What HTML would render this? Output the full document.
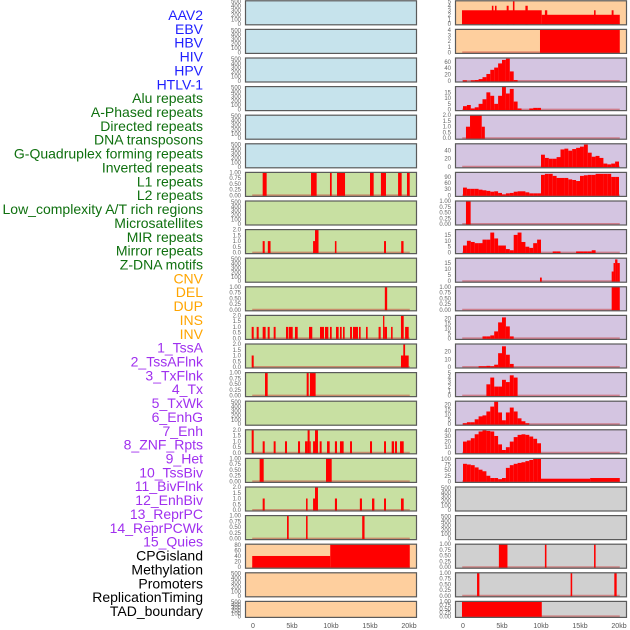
<!DOCTYPE html>
<html><head><meta charset="utf-8"><style>
html,body{margin:0;padding:0;background:#fff;width:630px;height:630px;overflow:hidden}
svg text{font-family:"Liberation Sans",sans-serif}
</style></head><body>
<svg id="fig" width="630" height="630" xmlns="http://www.w3.org/2000/svg"></svg>
<script>
// ---- label data ----
const trackLabels = ["AAV2","EBV","HBV","HIV","HPV","HTLV-1","Alu repeats","A-Phased repeats","Directed repeats","DNA transposons","G-Quadruplex forming repeats","Inverted repeats","L1 repeats","L2 repeats","Low_complexity A/T rich regions","Microsatellites","MIR repeats","Mirror repeats","Z-DNA motifs","CNV","DEL","DUP","INS","INV","1_TssA","2_TssAFlnk","3_TxFlnk","4_Tx","5_TxWk","6_EnhG","7_Enh","8_ZNF_Rpts","9_Het","10_TssBiv","11_BivFlnk","12_EnhBiv","13_ReprPC","14_ReprPCWk","15_Quies","CPGisland","Methylation","Promoters","ReplicationTiming","TAD_boundary"];
const labelGroups = [6,13,5,15,5]; // blue, green, orange, purple, black
const xTickLabels = ["0","5kb","10kb","15kb","20kb"];
const xTickValues = [0,5,10,15,20];

// ---- left column segment data [startKb, endKb, value] ----
const segL6 = [[1.24,1.75,1],[7.44,8.16,1],[9.87,10.09,1],[10.77,11.8,1],[15,15.47,1],[16.4,17.05,1],[18.6,19.06,1],[19.74,20.09,1]];
const segL8 = [[1.24,1.5,1],[1.9,2.25,1],[7.7,7.95,1],[7.95,8.4,2],[10.5,10.7,1],[16.8,17.05,1],[19,19.3,1]];
const segL10 = [[16.9,17.2,1]];
const segL11 = [[-0.17,0.09,1],[0.47,0.73,1],[1.24,1.62,1],[1.88,2.14,1],[2.65,2.9,1],[4.23,4.49,1],[4.57,5.09,1],[5.38,5.73,1],[7.18,7.6,1],[8.59,9.1,1],[9.23,9.66,1],[9.87,10.09,1],[10.64,10.98,1],[11.15,11.37,1],[11.54,11.75,1],[12.44,12.69,1],[12.82,13.46,1],[13.59,13.8,1],[14.49,14.7,1],[16.1,16.37,1],[16.67,16.84,2],[16.84,17.18,1],[17.7,17.9,1],[18.97,19.32,2],[19.5,19.96,1]];
const segL12 = [[-0.17,0.09,1],[18.97,19.96,1],[19.27,19.5,2]];
const segL13 = [[1.54,1.88,1],[6.88,7.14,1],[7.3,8.03,1]];
const segL15 = [[-0.17,0.09,2],[1.24,1.5,1],[2.65,2.9,1],[4.1,4.36,1],[5.77,6.03,1],[6.67,7.0,1],[7.0,7.26,2],[7.26,7.4,1],[7.7,7.95,1],[7.95,8.33,2],[8.55,8.8,1],[9.49,9.83,1],[10.5,10.77,1],[11.15,11.62,1],[12.44,12.69,1],[15,15.26,1],[16.8,17.05,1],[17.78,18.08,1],[18.2,18.46,1],[18.85,19.32,1]];
const segL16 = [[0.85,1.37,1],[9.36,10.09,1]];
const segL17 = [[1.24,1.5,1],[6.8,7.0,1],[7.7,7.95,1],[7.95,8.33,2],[10.5,10.77,1],[13.7,13.97,1],[15.26,15.56,1],[16.8,17.05,1],[18.97,19.32,1]];
const segL18 = [[4.36,4.58,1],[6.8,7.0,1],[14.0,14.3,1]];
const segL19 = [[-0.1,9.9,40],[9.9,20.1,80]];

// ---- right column data ----
const segR0 = [[-0.13,10.09,3],[10.09,20.1,2],[3.7,3.9,4],[4.1,4.3,4],[5.6,5.85,4],[6.4,6.6,5],[8.0,8.3,4],[10.5,10.8,3],[16.8,17.0,3],[19.06,19.3,3]];
const segR1 = [[9.87,20.1,4]];
const histR2 = [2,0,2,3,6,12,22,35,42,55,66,70,30,3];
const histR3 = [3,4,1,2,5,9,15,12,5,12,20,14,18,7,1,0,0,1,1.5,1.5];
const segR4 = [[0.38,0.9,1],[0.9,2.4,2],[2.4,2.8,1]];
const histR5 = [0,0,0,0,0,0,0,0,0,0,0,0,0,0,0,0,0,0,0,0,30,22,20,20,24,43,45,40,44,47,50,55,35,25,27,22,8,6,8,13];
const histR6 = [38,32,32,32,28,25,22,18,20,12,5,10,12,18,20,20,15,10,10,10,100,105,105,95,85,85,85,78,75,70,95,98,100,100,105,105,105,105,90,90];
const segR7 = [[0.38,0.98,1]];
const histR8 = [6,10,9,8,8,11,11,17,12,6,6,3,2,15,17,9,5,4,8,11,0,0,0,1,1,0,0,0,0,1,1,1,1,2];
const segR9 = [[9.87,10.1,3],[19.06,19.3,8],[19.3,19.5,15],[19.5,19.8,18],[19.8,20.1,15]];
const segR10 = [[19.06,20.1,1]];
const histR11 = [0,0,0,0,0,2,2,3,7,16,21,12,2];
const histR12 = [0,0,0,0,1,1,1.5,1,3,18,27,16,4];
const histR13 = [0,0,0,0,0,0,2.5,4,2,2,3.5,3,4.5,4];
const histR14 = [1,2,2,5,8,9,13,18,23,12,4,12,17,13,6,3,1];
const histR15 = [20,22,26,33,38,40,39,38,30,15,5,10,20,28,32,33,32,29,25,17];
const histR16 = [78,75,72,62,52,45,25,15,15,10,15,60,72,78,82,85,90,95,100,100];
const segR16 = [[10,16.3,12],[16.3,20.1,15]];
const segR19 = [[4.6,5.7,1],[10.5,10.7,1],[16.8,17.0,1]];
const segR20 = [[1.8,2.1,1],[13.8,14.0,1],[19.4,19.7,1]];
const segR21 = [[-0.13,10.1,1]];

// ---- tick label sets ----
const ticksEmpty = [0,100,200,300,400,500];
const ticks01 = [0,0.25,0.5,0.75,1];
const ticks02 = [0,0.5,1,1.5,2];

const BLUE="#c6e3ec", GREEN="#c8e0a2", PEACH="#fecf9e", LAV="#d4c5e1", GREY="#d0d0d0";
function fmt(t,set){ if(set===ticks01) return t.toFixed(2); if(set===ticks02) return t.toFixed(1); return String(t); }
const leftRows = [
 {bg:BLUE,ymax:520,ticks:ticksEmpty},{bg:BLUE,ymax:520,ticks:ticksEmpty},{bg:BLUE,ymax:520,ticks:ticksEmpty},
 {bg:BLUE,ymax:520,ticks:ticksEmpty},{bg:BLUE,ymax:520,ticks:ticksEmpty},{bg:BLUE,ymax:520,ticks:ticksEmpty},
 {bg:GREEN,ymax:1,ticks:ticks01,seg:segL6},{bg:GREEN,ymax:520,ticks:ticksEmpty},
 {bg:GREEN,ymax:2,ticks:ticks02,seg:segL8},{bg:GREEN,ymax:520,ticks:ticksEmpty},
 {bg:GREEN,ymax:1,ticks:ticks01,seg:segL10},{bg:GREEN,ymax:2,ticks:ticks02,seg:segL11},
 {bg:GREEN,ymax:2,ticks:ticks02,seg:segL12},{bg:GREEN,ymax:1,ticks:ticks01,seg:segL13},
 {bg:GREEN,ymax:520,ticks:ticksEmpty},{bg:GREEN,ymax:2,ticks:ticks02,seg:segL15},
 {bg:GREEN,ymax:1,ticks:ticks01,seg:segL16},{bg:GREEN,ymax:2,ticks:ticks02,seg:segL17},
 {bg:GREEN,ymax:1,ticks:ticks01,seg:segL18},{bg:PEACH,ymax:82,ticks:[0,20,40,60,80],seg:segL19},
 {bg:PEACH,ymax:520,ticks:ticksEmpty},{bg:PEACH,ymax:520,ticks:ticksEmpty}
];
const rightRows = [
 {bg:PEACH,ymax:5.1,ticks:[0,1,2,3,4,5],seg:segR0},{bg:PEACH,ymax:4.1,ticks:[0,1,2,3,4],seg:segR1},
 {bg:LAV,ymax:72,ticks:[0,20,40,60],hist:histR2},{bg:LAV,ymax:20,ticks:[0,5,10,15],hist:histR3},
 {bg:LAV,ymax:2,ticks:ticks02,seg:segR4},{bg:LAV,ymax:57,ticks:[0,20,40],hist:histR5},
 {bg:LAV,ymax:112,ticks:[0,30,60,90],hist:histR6},{bg:LAV,ymax:1,ticks:ticks01,seg:segR7},
 {bg:LAV,ymax:19.5,ticks:[0,5,10,15],hist:histR8},{bg:LAV,ymax:19,ticks:[0,5,10,15],seg:segR9},
 {bg:LAV,ymax:1,ticks:ticks01,seg:segR10},{bg:LAV,ymax:23,ticks:[0,5,10,15,20],hist:histR11},
 {bg:LAV,ymax:30,ticks:[0,10,20],hist:histR12},{bg:LAV,ymax:5.1,ticks:[0,1,2,3,4,5],hist:histR13},
 {bg:LAV,ymax:23.5,ticks:[0,5,10,15,20],hist:histR14},{bg:LAV,ymax:41,ticks:[0,10,20,30,40],hist:histR15},
 {bg:LAV,ymax:102,ticks:[0,25,50,75,100],hist:histR16,seg:segR16},{bg:GREY,ymax:520,ticks:ticksEmpty},
 {bg:GREY,ymax:520,ticks:ticksEmpty},{bg:GREY,ymax:1,ticks:ticks01,seg:segR19},
 {bg:GREY,ymax:1,ticks:ticks01,seg:segR20},{bg:GREY,ymax:1,ticks:ticks01,seg:segR21}
];

const NS="http://www.w3.org/2000/svg", svg=document.getElementById('fig');
function mk(tag,attrs,parent){const e=document.createElementNS(NS,tag);for(const k in attrs)e.setAttribute(k,attrs[k]);(parent||svg).appendChild(e);return e;}

// labels
const gColors=["#1f1fff","#0f700f","#ffa500","#a030ef","#000000"];
let gi=0,cnt=0;
trackLabels.forEach((t,k)=>{
  while(cnt>=labelGroups[gi]){cnt-=labelGroups[gi];gi++;}
  const e=mk('text',{x:203,y:15+13.86*k,'text-anchor':'end','dominant-baseline':'central','font-size':'14',fill:gColors[gi]});
  e.textContent=t;
  
  
  cnt++;
});

function drawColumn(rows,x0,colName){
  const left=x0, right=x0+172;
  const xs=kb=>x0+8+kb*7.8;
  rows.forEach((r,i)=>{
    const top=28.6*i+0.3, h=(i===21)?17:25, bot=top+h;
    const y0=bot-1.5;
    const ys=v=>y0-(v/r.ymax)*(y0-top-0.5);
    const g=mk('g',{});
    
    
    const bg=mk('rect',{x:left,y:top,width:172,height:h,fill:r.bg},g);
    
    
    const hasData=!!(r.seg||r.hist);
    if(hasData){
      const bl=mk('line',{x1:xs(-0.1),x2:xs(20.1),y1:y0,y2:y0,stroke:'rgba(200,40,40,0.45)','stroke-width':2},g);
      
      
    }
    if(r.hist){
      r.hist.forEach((v,b)=>{
        if(v<=0)return;
        const rc=mk('rect',{x:xs(b*0.5),y:ys(v),width:xs(b*0.5+0.5)-xs(b*0.5),height:y0-ys(v)+0.5,fill:'#ff0000'},g);
        
        
      });
    }
    if(r.seg){
      r.seg.forEach(s=>{
        const rc=mk('rect',{x:xs(s[0]),y:ys(s[2]),width:Math.max(1,xs(s[1])-xs(s[0])),height:y0-ys(s[2])+0.5,fill:'#ff0000'},g);
        
        
      });
    }
    const fr=mk('rect',{x:left+0.5,y:top+0.5,width:171,height:h-1,fill:'none',stroke:'#5a5a5a','stroke-width':1.2},g);
    
    
    r.ticks.forEach(t=>{
      const tx=mk('text',{x:left-4,y:ys(t)+2,'text-anchor':'end','font-size':'6',fill:'#666'},g);
      tx.textContent=fmt(t,r.ticks);
      
      
    });
  });
  xTickValues.forEach((v,k)=>{
    const tx=mk('text',{x:xs(v),y:628,'text-anchor':'middle','font-size':'7',fill:'#555'});
    tx.textContent=xTickLabels[k];
    
    
  });
}
drawColumn(leftRows,245,'left');
drawColumn(rightRows,455,'right');
</script>
</body></html>
